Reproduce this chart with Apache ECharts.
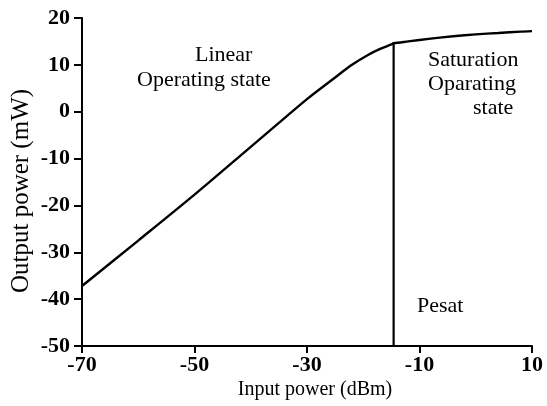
<!DOCTYPE html>
<html>
<head>
<meta charset="utf-8">
<script src="https://cdn.jsdelivr.net/npm/echarts@6/dist/echarts.min.js"></script>
<style>html,body{margin:0;padding:0;background:#fff;}#c{width:547px;height:406px;}</style>
</head>
<body>
<div id="c"></div>
<script>
const inputPower = [-70, -60, -50, -40, -35, -30, -25, -22, -19, -17, -15, -14.6, -12, -8, -4, 0, 4, 8, 10];
const outputPower = [-37.2, -27.5, -17.7, -7.5, -2.4, 2.7, 7.3, 10.0, 12.2, 13.4, 14.35, 14.6, 15.0, 15.6, 16.1, 16.5, 16.8, 17.1, 17.2];
const pesatX = -14.6;
const pesatTop = 14.6;
const xTicks = [-70, -50, -30, -10, 10];
const yTicks = [-50, -40, -30, -20, -10, 0, 10, 20];
const xTitle = 'Input power (dBm)';
const yTitle = 'Output power (mW)';

const font = '"Liberation Serif", "Times New Roman", serif';
const chart = echarts.init(document.getElementById('c'));
chart.setOption({
  animation: false,
  backgroundColor: '#fff',
  grid: { left: 82, right: 15, top: 18, bottom: 60, containLabel: false, outerBoundsMode: 'none' },
  xAxis: {
    type: 'value', min: -70, max: 10, interval: 20,
    axisLine: { show: true, onZero: false, lineStyle: { color: '#000', width: 2 } },
    axisTick: { show: true, length: 7, lineStyle: { color: '#000', width: 2 } },
    axisLabel: { fontFamily: font, fontSize: 22, fontWeight: 'bold', color: '#000', margin: 8 },
    splitLine: { show: false }
  },
  yAxis: {
    type: 'value', min: -50, max: 20, interval: 10,
    axisLine: { show: true, onZero: false, lineStyle: { color: '#000', width: 2 } },
    axisTick: { show: true, length: 8, lineStyle: { color: '#000', width: 2 } },
    axisLabel: { fontFamily: font, fontSize: 22, fontWeight: 'bold', color: '#000', margin: 12 },
    splitLine: { show: false }
  },
  series: [
    {
      type: 'line', data: inputPower.map((x, i) => [x, outputPower[i]]),
      showSymbol: false, smooth: 0.3, lineStyle: { color: '#000', width: 2.4 }, z: 3
    },
    {
      type: 'line', data: [[pesatX, -50], [pesatX, pesatTop]],
      showSymbol: false, lineStyle: { color: '#000', width: 2.2 }, z: 3
    }
  ],
  graphic: [
    { type: 'text', x: 21, y: 191, rotation: Math.PI / 2,
      style: { text: yTitle, font: '25px ' + font, fill: '#000', align: 'center', verticalAlign: 'middle' } },
    { type: 'text', x: 315, y: 390,
      style: { text: xTitle, font: '20px ' + font, fill: '#000', align: 'center', verticalAlign: 'middle' } },
    { type: 'text', left: 195, top: 44, style: { text: 'Linear', font: '22px ' + font, fill: '#000' } },
    { type: 'text', left: 137, top: 69, style: { text: 'Operating state', font: '22px ' + font, fill: '#000' } },
    { type: 'text', left: 428, top: 49, style: { text: 'Saturation', font: '22px ' + font, fill: '#000' } },
    { type: 'text', left: 428, top: 73, style: { text: 'Oparating', font: '22px ' + font, fill: '#000' } },
    { type: 'text', left: 473, top: 97, style: { text: 'state', font: '22px ' + font, fill: '#000' } },
    { type: 'text', left: 417, top: 295, style: { text: 'Pesat', font: '22px ' + font, fill: '#000' } }
  ]
});
</script>
</body>
</html>
